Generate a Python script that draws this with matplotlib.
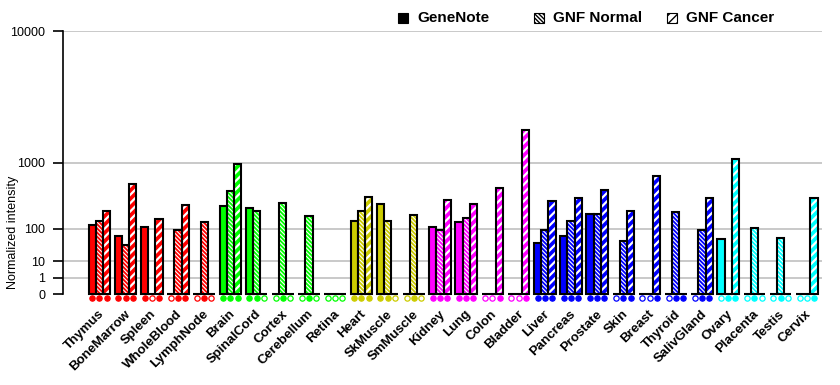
import numpy as np
import matplotlib
matplotlib.use("Agg")
import matplotlib.pyplot as plt
from matplotlib.patches import Rectangle
from matplotlib.transforms import blended_transform_factory

plt.rcParams['font.family'] = ['Liberation Sans', 'DejaVu Sans']

# Tissues and their colour groups
tissues = ['Thymus', 'BoneMarrow', 'Spleen', 'WholeBlood', 'LymphNode',
           'Brain', 'SpinalCord', 'Cortex', 'Cerebellum', 'Retina',
           'Heart', 'SkMuscle', 'SmMuscle',
           'Kidney', 'Lung', 'Colon', 'Bladder',
           'Liver', 'Pancreas', 'Prostate', 'Skin', 'Breast', 'Thyroid', 'SalivGland',
           'Ovary', 'Placenta', 'Testis', 'Cervix']
tissue_colors = (['#ff0000'] * 5 + ['#00ff00'] * 5 + ['#cccc00'] * 3 +
                 ['#ff00ff'] * 4 + ['#0000ff'] * 7 + ['#00ffff'] * 4)

# Normalized intensities
genenote = [119, 67, 108, 0, 0, 266, 247, 0, 0, 0, 145, 287, 0, 110, 139, 0, 0,
            44, 68, 194, 0, 0, 0, 0, 56, 0, 0, 0]
gnf_normal = [145, 39, 0, 94, 139, 452, 219, 300, 179, 0, 219, 145, 186, 91, 166, 0, 0,
              94, 145, 194, 51, 0, 213, 93, 0, 104, 60, 0]
gnf_cancer = [222, 562, 159, 279, 0, 968, 0, 0, 0, 0, 367, 0, 0, 334, 290, 497, 2090,
              323, 358, 467, 222, 709, 0, 355, 1100, 0, 0, 355]

# presence calls (filled / open dots under each bar)
calls_genenote = [1, 1, 1, 0, 0, 1, 1, 0, 0, 0, 1, 1, 0, 1, 1, 0, 0, 1, 1, 1, 0, 0, 0, 0, 0, 0, 0, 0]
calls_normal = [1, 1, 0, 1, 1, 1, 1, 1, 1, 0, 1, 1, 1, 1, 1, 0, 0, 1, 1, 1, 1, 0, 1, 1, 1, 1, 1, 0]
calls_cancer = [1, 1, 1, 1, 0, 1, 0, 0, 0, 0, 1, 0, 0, 1, 1, 1, 1, 1, 1, 1, 1, 1, 1, 1, 1, 0, 0, 1]

series = ['GeneNote', 'GNF Normal', 'GNF Cancer']
hatches = [None, '\\\\\\\\\\\\\\\\', '////']
hatch_lw = [1.0, 0.8, 1.6]
yticks = [0, 1, 10, 100, 1000, 10000]

p = np.log10(2)


def fwd(v):
    v = np.asarray(v, dtype=float)
    return np.sign(v) * np.abs(v) ** p


def inv(v):
    v = np.asarray(v, dtype=float)
    return np.sign(v) * np.abs(v) ** (1 / p)


fig = plt.figure(figsize=(8.4, 3.85), dpi=100)
ax = fig.add_axes([63.3 / 840, 90.7 / 385, 758.7 / 840, 263 / 385])
ax.set_yscale('function', functions=(fwd, inv))

x = np.arange(len(tissues))
w = 0.275
mark_tr = blended_transform_factory(ax.transData, ax.transAxes)

for s, (vals, calls) in enumerate(zip([genenote, gnf_normal, gnf_cancer],
                                      [calls_genenote, calls_normal, calls_cancer])):
    xs = x + (s - 1) * w
    with plt.rc_context({'hatch.linewidth': hatch_lw[s]}):
        bars = ax.bar(xs, vals, width=w, color=tissue_colors, edgecolor='white',
                      hatch=hatches[s], linewidth=0, zorder=2)
    for b in bars:
        if hasattr(b, 'set_hatch_linewidth'):
            b.set_hatch_linewidth(hatch_lw[s])
    ax.bar(xs, vals, width=w, fill=False, edgecolor='black', linewidth=1.5,
           zorder=3, clip_on=False)
    for xi, c, col in zip(xs, calls, tissue_colors):
        ax.plot(xi, -0.013, 'o', ms=3.8, mec=col, mew=0.9,
                mfc=col if c else 'white', transform=mark_tr, clip_on=False)

ax.set_xlim(-1.38, 27.58)
ax.set_ylim(0, 10000)
ax.set_yticks(yticks)
ax.set_yticklabels([str(t) for t in yticks], fontsize=9)
ax.yaxis.set_minor_locator(plt.NullLocator())
ax.tick_params(axis='y', length=7, width=1.2, pad=6)
ax.set_xticks(x + 0.1)
ax.set_xticklabels(tissues, rotation=45, ha='right', va='center',
                   rotation_mode='anchor', fontsize=9.5, fontweight='bold')
ax.tick_params(axis='x', length=0, pad=13)

ax.set_axisbelow(True)
ax.yaxis.grid(True, color='#c0c0c0', linewidth=1.2)
ax.get_ygridlines()[0].set_visible(False)
for side in ['top', 'right', 'bottom']:
    ax.spines[side].set_visible(False)
ax.spines['left'].set_linewidth(1.2)

ax.set_ylabel('Normalized intensity', fontsize=9)
ax.yaxis.set_label_coords(-0.059, 0.237)

# legend across the top
leg_x = [398, 534, 667]
for name, h, lx in zip(series, hatches, leg_x):
    face = 'black' if h is None else 'white'
    fig.add_artist(Rectangle((lx / 840, 1 - 23 / 385), 10 / 840, 10 / 385,
                             facecolor=face, edgecolor='black', hatch=h,
                             linewidth=0.8, transform=fig.transFigure))
    fig.text((lx + 19) / 840, 1 - 18 / 385, name, fontsize=11, fontweight='bold',
             va='center', ha='left')

fig.savefig('out.png', dpi=100)
